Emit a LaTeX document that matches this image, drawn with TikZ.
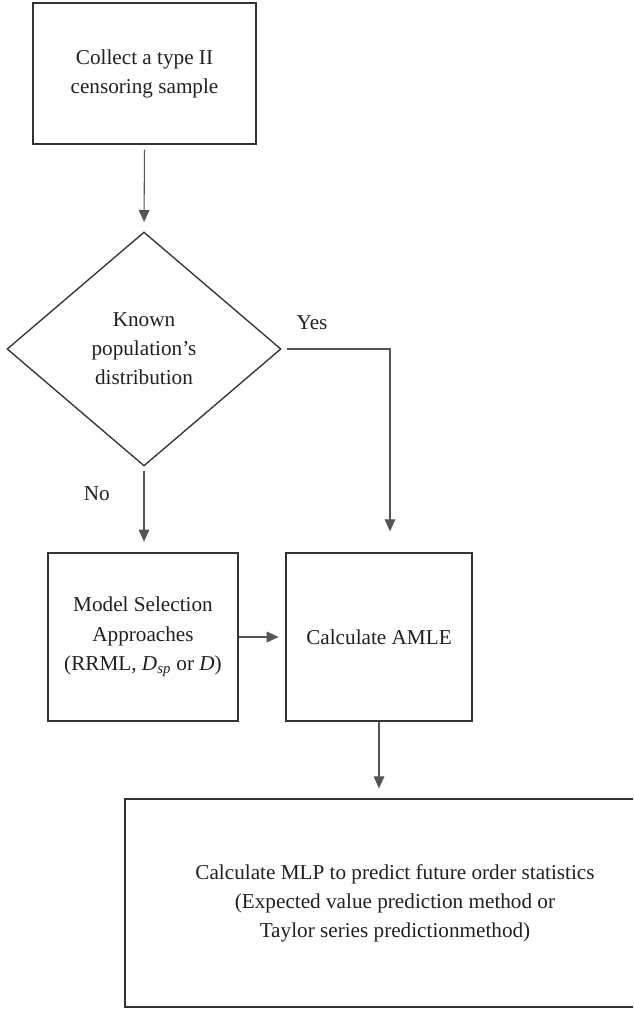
\documentclass[tikz,border=0pt]{standalone}
\usepackage{fontspec}
\setmainfont{Liberation Serif}
\usetikzlibrary{positioning,arrows.meta,calc,shapes.geometric}
\definecolor{FCline}{HTML}{333333}
\definecolor{FCarrow}{HTML}{555555}
\definecolor{FCtext}{HTML}{231F20}
\tikzset{
  flowbox/.style={draw=FCline, line width=1pt, align=center, text=FCtext, inner sep=0pt, font=\fontsize{15.9}{21.8}\selectfont},
  decision/.style={flowbox, diamond, aspect=1.17},
  flowarr/.style={-{Triangle[length=9pt,width=8pt]}, line width=0.8pt, draw=FCarrow},
  branchlbl/.style={font=\fontsize{15.9}{21.8}\selectfont, text=FCtext}
}

\begin{document}
\begin{tikzpicture}[x=0.75pt, y=-0.75pt]
  \clip (0,0) rectangle (633,1009);
  \node[flowbox, minimum width=167.25pt, minimum height=105.75pt] (collect) at (144.5,73.5)
        {Collect a type II\\censoring sample};
  \node[decision, minimum width=205.5pt, minimum height=175.5pt] (known) at (144,349)
        {Known\\population’s\\distribution};
  \node[flowbox, minimum width=142.5pt, minimum height=126pt] (model) at (143,637)
        {Model Selection\\Approaches\\(RRML, \textit{D}\textsubscript{\textit{sp}} or \textit{D})};
  \node[flowbox, minimum width=139.5pt, minimum height=126pt] (amle) at (379,637)
        {Calculate AMLE};
  \node[flowbox, minimum width=405pt, minimum height=156pt] (mlp) at (395,903)
        {Calculate MLP to predict future order statistics\\(Expected value prediction method or\\Taylor series predictionmethod)};
  \coordinate (yesend) at ($(amle.north)+(11,-21)$);
  \draw[flowarr, shorten <=3.75pt, shorten >=7pt] (collect.south) -- (known.north);
  \draw[flowarr, shorten <=3.75pt] (known.east) -| node[branchlbl, pos=0.14, above=11pt]{Yes} (yesend);
  \draw[flowarr, shorten <=3pt, shorten >=8pt] (known.south) -- node[branchlbl, pos=0.32, left=22pt]{No} (known.south |- model.north);
  \draw[flowarr, shorten >=5pt] (model.east) -- (amle.west);
  \draw[flowarr, shorten >=7.5pt] (amle.south) -- (amle.south |- mlp.north);
\end{tikzpicture}
\end{document}
